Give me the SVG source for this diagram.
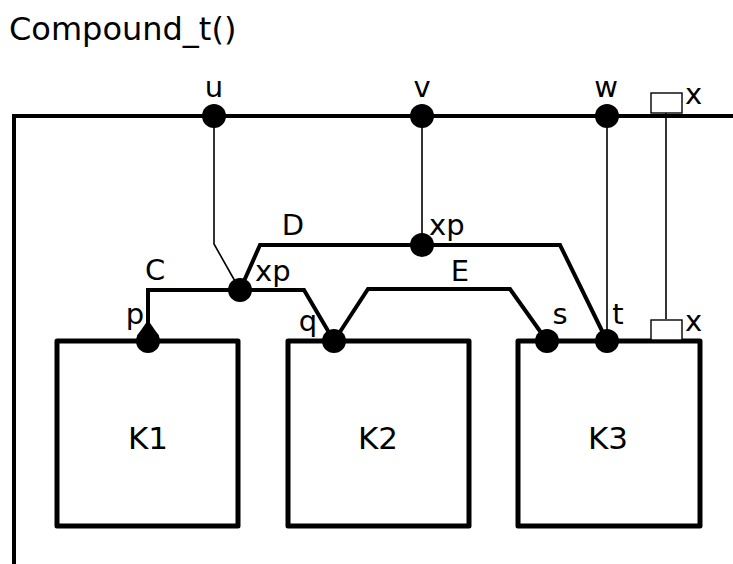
<svg xmlns="http://www.w3.org/2000/svg" width="733" height="564" viewBox="0 0 733 564">
<style>
text{font-family:"DejaVu Sans",sans-serif;fill:#000}
.lbl{font-size:29px}
.big{font-size:31px}
.title{font-size:32px}
.box{fill:#fff;stroke:#000;stroke-width:5;stroke-linejoin:round}
.net{fill:none;stroke:#000;stroke-width:4}
.thin{fill:none;stroke:#000;stroke-width:1.6}
.port{fill:#fff;stroke:#000;stroke-width:1.4}
.dot{fill:#000}
</style>
<rect width="733" height="564" fill="#fff"/>
<text x="9" y="40" class="title">Compound_t()</text>
<g id="frame">
<path d="M14,564 V116 H733" class="net"/>
</g>
<g id="connectors">
<path d="M214,116 V244 L240,290" class="thin"/>
<path d="M422,116 V245" class="thin"/>
<path d="M607,116 V341" class="thin"/>
<path d="M666,113 V319" class="thin"/>
<path d="M148,341 V290 H304 L334,341" class="net"/>
<path d="M240,290 L260,245 H560 L607,341" class="net"/>
<path d="M334,341 L368,289 H510 L547,341" class="net"/>
</g>
<g id="K1"><rect x="57" y="341" width="181" height="185" class="box"/><text x="148" y="449" class="big" text-anchor="middle">K1</text></g>
<g id="K2"><rect x="288" y="341" width="181" height="185" class="box"/><text x="378" y="449" class="big" text-anchor="middle">K2</text></g>
<g id="K3"><rect x="518" y="341" width="182" height="185" class="box"/><text x="608" y="449" class="big" text-anchor="middle">K3</text></g>
<g id="ports">
<circle cx="214" cy="116" r="12" class="dot"/>
<circle cx="422" cy="116" r="12" class="dot"/>
<circle cx="607" cy="116" r="12" class="dot"/>
<rect x="651" y="93" width="31" height="20" class="port"/>
<rect x="651" y="320" width="31" height="20" class="port"/>
<circle cx="240" cy="290" r="12" class="dot"/>
<circle cx="422" cy="245" r="12" class="dot"/>
<path d="M148,320 L159,336 L137,336 Z" class="dot"/>
<circle cx="148" cy="341" r="12" class="dot"/>
<circle cx="334" cy="341" r="12" class="dot"/>
<circle cx="547" cy="341" r="12" class="dot"/>
<circle cx="607" cy="341" r="12" class="dot"/>
</g>
<g id="labels" class="lbl">
<text x="214" y="97" text-anchor="middle">u</text>
<text x="422" y="97" text-anchor="middle">v</text>
<text x="606" y="97" text-anchor="middle">w</text>
<text x="685" y="104">x</text>
<text x="685" y="331">x</text>
<text x="155" y="280" text-anchor="middle">C</text>
<text x="293" y="235" text-anchor="middle">D</text>
<text x="460" y="281" text-anchor="middle">E</text>
<text x="255" y="281">xp</text>
<text x="429" y="235">xp</text>
<text x="135" y="324" text-anchor="middle">p</text>
<text x="308" y="331" text-anchor="middle">q</text>
<text x="560" y="324" text-anchor="middle">s</text>
<text x="618" y="324" text-anchor="middle">t</text>
</g>
</svg>
